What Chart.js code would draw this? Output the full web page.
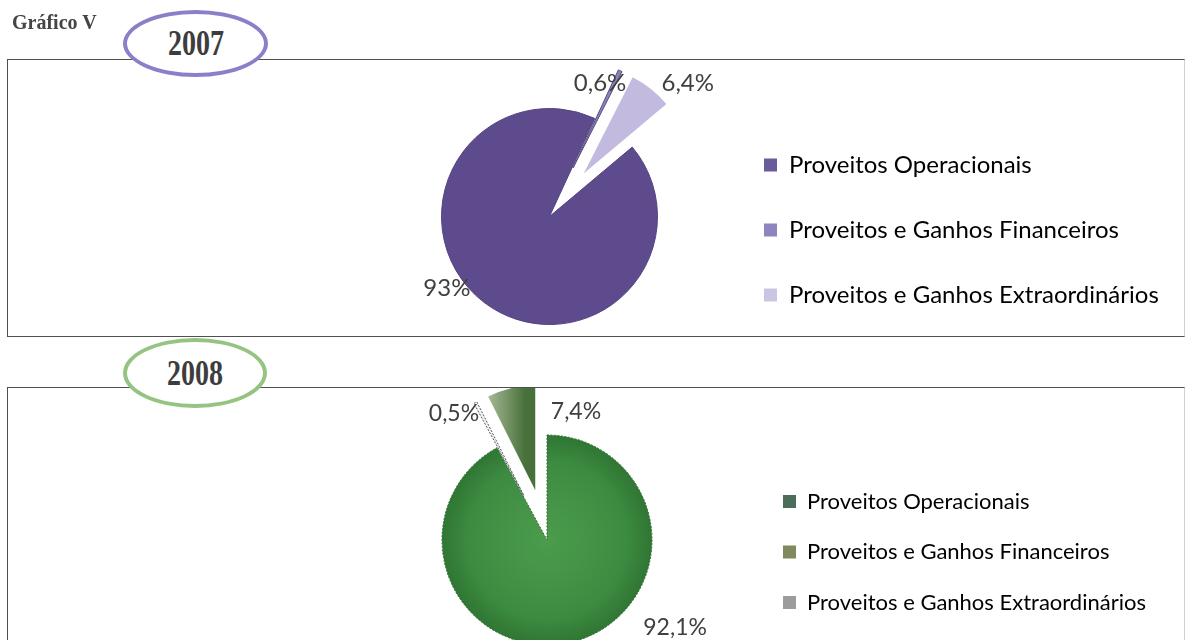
<!DOCTYPE html>
<html lang="pt">
<head>
<meta charset="utf-8">
<script src="https://cdn.jsdelivr.net/npm/chart.js@4/dist/chart.umd.min.js"></script>
<style>
  html, body { margin: 0; padding: 0; background: #fff; }
  body { width: 1186px; height: 640px; position: relative; overflow: hidden; }
  .heading { position: absolute; left: 12px; top: 11px; font: bold 20px "Liberation Serif", serif; color: #454545; z-index: 3; }
  .panel { position: absolute; left: 7px; width: 1176px; border: 1px solid #505050; border-right-color: #d0d0d0; z-index: 0; }
  #panel2007 { top: 59px; height: 276px; }
  #panel2008 { top: 387px; height: 300px; }
  .year { position: absolute; background: #fff; border-radius: 50%; box-sizing: border-box;
          display: flex; align-items: center; justify-content: center; z-index: 2;
          font: bold 33px "Liberation Serif", serif; color: #3d3d3d; }
  .year span { display: inline-block; transform: scale(0.85, 1.08); }
  #year2007 { left: 123px; top: 10px; width: 145px; height: 67px; border: 4px solid #8c7fc9; }
  #year2008 { left: 123px; top: 338px; width: 144px; height: 70px; border: 4px solid #95c482; }
  canvas { position: absolute; left: 0; z-index: 1; }
  #chart2007 { top: 0; }
  #chart2008 { top: 388px; }
</style>
</head>
<body>
<div class="heading">Gráfico V</div>
<div class="panel" id="panel2007"></div>
<div class="panel" id="panel2008"></div>
<div class="year" id="year2007"><span>2007</span></div>
<div class="year" id="year2008"><span>2008</span></div>
<canvas id="chart2007" width="1186" height="433"></canvas>
<canvas id="chart2008" width="1186" height="252"></canvas>
<script>
// Categorias de proveitos e respetivas percentagens por ano
const categorias = ['Proveitos Operacionais', 'Proveitos e Ganhos Financeiros', 'Proveitos e Ganhos Extraordinários'];
const valores2007 = [93, 0.6, 6.4];
const valores2008 = [92.1, 0.5, 7.4];

const fmtPct = v => String(v).replace('.', ',') + '%';

// Places the legend block at a chosen spot once the layout is known
const legendPlace = {
  id: 'legendPlace',
  afterLayout(chart, args, opts) {
    const lg = chart.legend;
    if (!lg) return;
    const pad = lg.options.labels.padding;
    const w = lg.width, h = lg.height;
    lg.left = opts.x - pad; lg.right = lg.left + w;
    lg.top = opts.y - h / 2; lg.bottom = lg.top + h;
  }
};

// Draws each arc pulled out along its mid angle by a fixed distance (exploded pie)
const explode = {
  id: 'explode',
  beforeDatasetDraw(chart, args, opts) {
    const ctx = chart.ctx;
    args.meta.data.forEach((arc, i) => {
      const d = opts.distances[i] || 0;
      const mid = (arc.startAngle + arc.endAngle) / 2;
      ctx.save();
      ctx.translate(Math.cos(mid) * d, Math.sin(mid) * d);
      arc.draw(ctx);
      ctx.restore();
    });
    return false;
  }
};

// Percentage labels anchored on each arc (offsets in units of the arc radius)
const pctLabels = {
  id: 'pctLabels',
  afterDatasetsDraw(chart, args, opts) {
    const meta = chart.getDatasetMeta(0);
    const values = chart.data.datasets[0].data;
    const ctx = chart.ctx;
    ctx.save();
    ctx.font = opts.font;
    ctx.fillStyle = opts.color;
    ctx.textAlign = 'center';
    ctx.textBaseline = 'middle';
    meta.data.forEach((arc, i) => {
      const p = arc.getProps(['x', 'y', 'outerRadius'], true);
      const [fx, fy] = opts.anchors[i];
      ctx.fillText(fmtPct(values[i]), p.x + fx * p.outerRadius, p.y + fy * p.outerRadius);
    });
    ctx.restore();
  }
};

function legendItems(colors) {
  return () => categorias.map((text, i) => ({
    text, fillStyle: colors[i], strokeStyle: colors[i], lineWidth: 0, hidden: false, index: i
  }));
}

// 2007
new Chart(document.getElementById('chart2007'), {
  type: 'pie',
  data: {
    labels: categorias,
    datasets: [{
      data: valores2007,
      backgroundColor: ['#5d4b8d', '#8c80bd', '#c3bbdf'],
      borderColor: ['#54437f', '#5a4d80', '#b3aad3'],
      borderWidth: [1, 1, 0]
    }]
  },
  options: {
    responsive: false,
    animation: false,
    events: [],
    rotation: 50,
    radius: 108,
    layout: { padding: { right: 87 } },
    plugins: {
      tooltip: { enabled: false },
      legend: {
        position: 'chartArea',
        labels: {
          boxWidth: 13, boxHeight: 13, padding: 41, color: '#404040',
          font: { family: 'Lato', size: 24 },
          generateLabels: legendItems(['#6a5b9c', '#8e84c0', '#cbc5e3'])
        }
      },
      legendPlace: { x: 764, y: 230 },
      explode: { distances: [0, 54, 55] },
      pctLabels: { font: '24px Lato', color: '#404040', anchors: [[-0.95, 0.66], [0.468, -1.236], [1.28, -1.236]] }
    }
  },
  plugins: [legendPlace, explode, pctLabels]
});

// 2008
new Chart(document.getElementById('chart2008'), {
  type: 'pie',
  data: {
    labels: categorias,
    datasets: [{
      data: valores2008,
      backgroundColor: (c) => {
        const area = c.chart.chartArea;
        const i = c.dataIndex;
        if (!area) return ['#3e8c42', '#f2f2f2', '#7d9a62'][i];
        const cx = (area.left + area.right) / 2, cy = (area.top + area.bottom) / 2;
        const g = c.chart.ctx;
        if (i === 0) {
          // main slice: slightly lighter towards the centre
          const rg = g.createRadialGradient(cx, cy, 0, cx, cy, 105);
          rg.addColorStop(0, '#4c9c4d');
          rg.addColorStop(0.75, '#3d8b41');
          rg.addColorStop(1, '#2f7633');
          return rg;
        }
        if (i === 2) {
          // pulled-out slice: light on its left side, dark olive on its right
          const lg = g.createLinearGradient(cx - 58, 0, cx - 10, 0);
          lg.addColorStop(0, '#c2cfae');
          lg.addColorStop(1, '#47703a');
          return lg;
        }
        return '#f2f2f2';
      },
      borderColor: ['#2f6f33', '#555555', '#4a6d39'],
      borderWidth: [1, 1, 0],
      borderDash: [2, 1.5]
    }]
  },
  options: {
    responsive: false,
    animation: false,
    events: [],
    rotation: 0,
    radius: 105,
    layout: { padding: { right: 92, top: 52 } },
    plugins: {
      tooltip: { enabled: false },
      legend: {
        position: 'chartArea',
        labels: {
          boxWidth: 13, boxHeight: 13, padding: 28.5, color: '#404040',
          font: { family: 'Lato', size: 22 },
          generateLabels: legendItems(['#4d6d5c', '#818a5f', '#9c9c9c'])
        }
      },
      legendPlace: { x: 783, y: 164 },
      explode: { distances: [0, 50, 51] },
      pctLabels: { font: '23px Lato', color: '#404040', anchors: [[1.22, 0.83], [-0.886, -1.2], [0.276, -1.219]] }
    }
  },
  plugins: [legendPlace, explode, pctLabels]
});
</script>
</body>
</html>
